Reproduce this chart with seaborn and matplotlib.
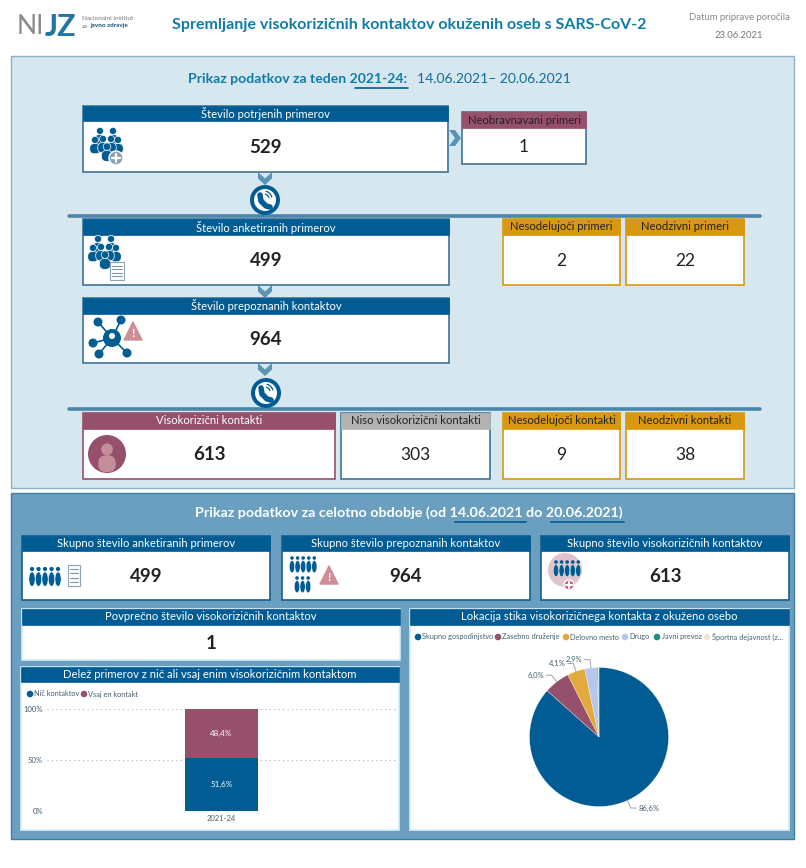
import pandas as pd
import seaborn as sns
import numpy as np
import matplotlib
matplotlib.use("Agg")
import matplotlib.pyplot as plt
from matplotlib.patches import Rectangle, Circle, Ellipse, Polygon, FancyBboxPatch

# ---- data ----
naslov = "Spremljanje visokorizičnih kontaktov okuženih oseb s SARS-CoV-2"
datum_label = "Datum priprave poročila"
datum = "23.06.2021"
teden = "2021-24"

potrjeni = 529
neobravnavani = 1
anketirani = 499
nesodelujoci_prim = 2
neodzivni_prim = 22
prepoznani = 964
visokorizicni = 613
niso_visokorizicni = 303
nesodelujoci_kont = 9
neodzivni_kont = 38
povprecje = 1

delez_kategorije = ["Nič kontaktov", "Vsaj en kontakt"]
delez_vrednosti = [51.6, 48.4]
delez_ticks = [0, 50, 100]

lokacije = ["Skupno gospodinjstvo", "Zasebno druženje", "Delovno mesto", "Drugo",
            "Javni prevoz", "Športna dejavnost (z..."]
lokacije_vrednosti = [86.6, 6.0, 4.1, 2.9, 0.3, 0.1]

MODRA = "#005c93"
VIJOLA = "#96506c"
ZLATA = "#d8980f"
SIVA = "#b2b2b2"
PIE_BARVE = [MODRA, VIJOLA, "#e2a93c", "#b5c8ea", "#1c8f84", "#f0e4cf"]
ROB = "#3f7396"
TEMNA = "#222222"
SIVO_MODRA = "#44606f"

sns.set_theme(style="white")
plt.rcParams["font.family"] = ["Lato", "DejaVu Sans"]

fig = plt.figure(figsize=(8.06, 8.68), dpi=100, facecolor="white")
ax = fig.add_axes([0, 0, 1, 1])
ax.set_xlim(0, 806)
ax.set_ylim(868, 0)
ax.axis("off")


def rect(x0, y0, x1, y1, fc, ec="none", lw=0, z=2):
    ax.add_patch(Rectangle((x0, y0), x1 - x0, y1 - y0, fc=fc, ec=ec, lw=lw, zorder=z))


def card(x0, y0, x1, y1, hh, title, value=None, head=MODRA, edge=ROB, bold=True, tcol="white", ts=8.1):
    rect(x0, y0, x1, y1, "white", edge, 1.2)
    rect(x0, y0, x1, y0 + hh, head, head, 0.5, z=3)
    ax.text((x0 + x1) / 2, y0 + hh / 2, title, color=tcol, fontsize=ts, ha="center", va="center", zorder=4)
    if value is not None:
        ax.text((x0 + x1) / 2, (y0 + hh + y1) / 2 + 1, str(value), color=TEMNA, fontsize=13.5 if bold else 12.5,
                fontweight="bold" if bold else "normal", ha="center", va="center", zorder=4)


def chev_down(x, y, w=7, h=12):
    ax.add_patch(Polygon([(x - w, y), (x, y + h * .5), (x + w, y), (x + w, y + h * .5), (x, y + h), (x - w, y + h * .5)],
                         fc="#5b93b5", ec="none", zorder=1.5))


def chev_right(x, y, w=12, h=8):
    ax.add_patch(Polygon([(x, y - h), (x + w * .5, y), (x, y + h), (x + w * .5, y + h), (x + w, y), (x + w * .5, y - h)],
                         fc="#5b93b5", ec="none", zorder=1.5))


def oseba(x, y, s, col=MODRA, z=5, ec="white"):
    ax.add_patch(FancyBboxPatch((x - s * .62, y - s * .05), s * 1.24, s * 1.2,
                                boxstyle="round,pad=0,rounding_size=%.2f" % (s * .55), fc=col, ec=ec, lw=.5, zorder=z))
    ax.add_patch(Circle((x, y - s * .48), s * .42, fc=col, ec=ec, lw=.5, zorder=z + .1))


def skupina(x, y, k=1.0):
    for dx, dy in [(-7, -11), (6, -11), (-12, -2), (11, -2)]:
        oseba(x + dx * k, y + dy * k, 8.5 * k)
    for dx, dy in [(-4, -3), (4, -3)]:
        oseba(x + dx * k, y + dy * k, 8.5 * k, z=6)
    oseba(x, y + 5 * k, 9 * k, z=7)


def plus(x, y, r=7, col="#8d9fb0"):
    ax.add_patch(Circle((x, y), r, fc=col, ec="white", lw=1, zorder=9))
    ax.plot([x - r * .6, x + r * .6], [y, y], color="white", lw=1.6, zorder=10)
    ax.plot([x, x], [y - r * .6, y + r * .6], color="white", lw=1.6, zorder=10)


def opomba(x, y, s=9, col="#cf8d98"):
    ax.add_patch(Polygon([(x, y - s), (x + s, y + s), (x - s, y + s)], fc=col, ec=col, lw=1, joinstyle="round", zorder=8))
    ax.text(x, y + s * .25, "!", color="white", fontsize=s * .95, fontweight="bold", ha="center", va="center", zorder=9)


def seznam(x0, y0, x1, y1):
    rect(x0, y0, x1, y1, "white", "#8fa3b3", .8, z=8)
    for yy in np.linspace(y0 + 4, y1 - 4, 4):
        ax.plot([x0 + 2, x1 - 2], [yy, yy], color="#7f95a6", lw=.8, zorder=9)


def telefon(x, y):
    ax.add_patch(Ellipse((x, y), 30, 30, fc=MODRA, ec="none", zorder=5))
    ax.add_patch(Ellipse((x, y), 22, 22, fc="white", ec="none", zorder=5.1))
    ax.plot([x - 5, x - 4, x + 1, x + 5], [y - 5, y + 1, y + 6, y + 7], color=MODRA, lw=4, solid_capstyle="round", zorder=6)
    for r in [5, 8]:
        t = np.radians(np.linspace(-75, -15, 12))
        ax.plot(x - 1 + r * np.cos(t), y - 1 + r * np.sin(t), color=MODRA, lw=.9, zorder=6)


def mreza(x, y):
    tocke = [(-14, -16), (9, -18), (-13, 16), (15, 15), (-19, 5)]
    for dx, dy in tocke:
        ax.plot([x, x + dx], [y, y + dy], color=MODRA, lw=1.2, zorder=5)
        ax.add_patch(Circle((x + dx, y + dy), 4.5, fc=MODRA, ec="none", zorder=6))
    ax.add_patch(Circle((x, y), 9, fc=MODRA, ec="none", zorder=6))
    ax.add_patch(Circle((x, y - 2), 3, fc="white", ec="none", zorder=7))


def mnozica(x, y, vrste=5, s=4.2):
    for i in range(vrste):
        ax.add_patch(Circle((x + i * s * 1.55, y), s * .5, fc=MODRA, ec="none", zorder=6))
        ax.add_patch(Ellipse((x + i * s * 1.55, y + s * 2.4), s * 1.45, s * 3.4, fc=MODRA, ec="white", lw=.3, zorder=6))


# ---- glava ----
ax.text(17, 27, "NI", color="#8a8a8a", fontsize=19, ha="left", va="center")
ax.text(45, 27, "JZ", color="#1f77a8", fontsize=22, fontweight="bold", ha="left", va="center")
ax.text(82, 18, "Nacionalni inštitut", color="#777777", fontsize=4.6, ha="left", va="center")
ax.text(82, 26, "za", color="#777777", fontsize=4.6, ha="left", va="center")
ax.text(90, 26, "javno zdravje", color="#1b4f72", fontsize=4.6, fontweight="bold", ha="left", va="center")
ax.text(409, 25, naslov, color="#0f7cab", fontsize=11.5, fontweight="bold", ha="center", va="center")
ax.text(739, 17, datum_label, color="#8a8a8a", fontsize=6.8, ha="center", va="center")
ax.text(739, 35, datum, color="#777777", fontsize=6.8, ha="center", va="center")

# ---- zgornji panel ----
rect(11, 56, 794, 488, "#d7e7f0", "#8fb0c4", 1, z=0)
ax.text(188, 79, "Prikaz podatkov za teden 2021-24:", color="#0f7cab", fontsize=10.1, fontweight="bold", ha="left", va="center")
ax.text(417, 79, "14.06.2021– 20.06.2021", color="#0f6d98", fontsize=10, ha="left", va="center")
ax.plot([355, 408], [88, 88], color=MODRA, lw=1.2)

for yy in (216, 409):
    ax.plot([69, 760], [yy, yy], color="#4a86aa", lw=2.6, zorder=1)

chev_down(265, 172, h=13)
chev_down(265, 285, h=13)
chev_down(265, 363, h=13)
chev_right(449, 138)

card(83, 106, 448, 172, 15, "Število potrjenih primerov", potrjeni)
card(462, 112, 586, 164, 16, "Neobravnavani primeri", neobravnavani, head=VIJOLA, bold=False, tcol=TEMNA)
card(83, 219, 449, 285, 16, "Število anketiranih primerov", anketirani)
card(503, 219, 620, 285, 16, "Nesodelujoči primeri", nesodelujoci_prim, head=ZLATA, edge=ZLATA, bold=False, tcol=TEMNA)
card(626, 219, 744, 285, 16, "Neodzivni primeri", neodzivni_prim, head=ZLATA, edge=ZLATA, bold=False, tcol=TEMNA)
card(83, 298, 449, 363, 16, "Število prepoznanih kontaktov", prepoznani)
card(83, 413, 335, 479, 16, "Visokorizični kontakti", visokorizicni, head=VIJOLA, edge=VIJOLA)
card(341, 413, 490, 479, 16, "Niso visokorizični kontakti", niso_visokorizicni, head=SIVA, bold=False, tcol=TEMNA)
card(503, 413, 620, 479, 16, "Nesodelujoči kontakti", nesodelujoci_kont, head=ZLATA, edge=ZLATA, bold=False, tcol=TEMNA)
card(626, 413, 744, 479, 16, "Neodzivni kontakti", neodzivni_kont, head=ZLATA, edge=ZLATA, bold=False, tcol=TEMNA)

skupina(107, 146)
plus(116, 158)
skupina(105, 254)
seznam(110, 262, 124, 280)
mreza(112, 338)
opomba(133, 331)
telefon(265, 200)
telefon(266, 393)
ax.add_patch(Ellipse((107, 454), 38, 38, fc=VIJOLA, ec="none", zorder=5))
oseba(107, 456, 14, col="#c48d9c", ec="none", z=6)

# ---- spodnji panel ----
rect(11, 493, 794, 839, "#6a9fbf", "#3f7f9f", 1, z=0)
ax.text(409, 513, "Prikaz podatkov za celotno obdobje (od 14.06.2021 do 20.06.2021)", color="white",
        fontsize=10.3, fontweight="bold", ha="center", va="center")
ax.plot([455, 526], [522, 522], color=MODRA, lw=1.2)
ax.plot([551, 624], [522, 522], color=MODRA, lw=1.2)

card(22, 536, 270, 600, 15, "Skupno število anketiranih primerov", anketirani, edge="#155f8a")
card(282, 536, 530, 600, 15, "Skupno število prepoznanih kontaktov", prepoznani, edge="#155f8a")
card(541, 536, 789, 600, 15, "Skupno število visokorizičnih kontaktov", visokorizicni, edge="#155f8a")
card(22, 609, 400, 660, 16, "Povprečno število visokorizičnih kontaktov", povprecje, edge="#d8eef8")
card(21, 667, 399, 830, 15, "Delež primerov z nič ali vsaj enim visokorizičnim kontaktom", edge="#d8eef8")
card(410, 609, 789, 830, 16, "Lokacija stika visokorizičnega kontakta z okuženo osebo", edge="#d8eef8")

mnozica(32, 569)
seznam(68, 565, 80, 586)
mnozica(292, 558, s=3.6)
mnozica(297, 578, vrste=3, s=3.6)
opomba(329, 575, s=9)
ax.add_patch(Ellipse((565, 570), 34, 34, fc="#e3c3cb", ec="none", zorder=5))
mnozica(556, 562, s=3.6)
plus(569, 585, r=5, col="#c8566f")

# legende
for x, k, c in zip([30, 84], delez_kategorije, [MODRA, VIJOLA]):
    ax.add_patch(Circle((x, 694), 3.3, fc=c, ec="none", zorder=5))
    ax.text(x + 4.5, 694, k, color=SIVO_MODRA, fontsize=5.3, ha="left", va="center", zorder=5)

leg_x = [418, 498, 566, 625, 657, 707]
for x, k, c in zip(leg_x, lokacije, PIE_BARVE):
    ax.add_patch(Circle((x, 637), 3.3, fc=c, ec="none", zorder=5))
    ax.text(x + 4.5, 637, k, color=SIVO_MODRA, fontsize=5.3, ha="left", va="center", zorder=5)

# ---- stolpec ----
W, H = 806, 868
bax = fig.add_axes([47 / W, 1 - 811 / H, 349 / W, 102 / H], facecolor="none", zorder=3)
df = pd.DataFrame({"teden": [teden] * 2, "kategorija": delez_kategorije, "delez": delez_vrednosti})
sns.barplot(data=df[df.kategorija == delez_kategorije[0]], x="teden", y="delez", color=MODRA, width=.21,
            saturation=1, linewidth=0, ax=bax, zorder=3)
sns.barplot(data=df[df.kategorija == delez_kategorije[1]], x="teden", y="delez", color=VIJOLA, width=.21,
            saturation=1, linewidth=0, bottom=delez_vrednosti[0], ax=bax, zorder=3)
bax.set_xlim(-.5, .5)
bax.set_ylim(0, 100)
bax.set_xlabel("")
bax.set_ylabel("")
bax.set_yticks(delez_ticks, [f"{t}%" for t in delez_ticks])
bax.tick_params(axis="both", length=0, labelsize=5.5, labelcolor=SIVO_MODRA, pad=3)
bax.grid(axis="y", linestyle=(0, (1, 3)), color="#aab4ba", lw=.8, zorder=0)
bax.set_axisbelow(True)
sns.despine(ax=bax, left=True, bottom=True)
dno = 0
for v in delez_vrednosti:
    bax.text(0, dno + v / 2, f"{v:.1f}%".replace(".", ","), color="white", fontsize=5.8, ha="center", va="center", zorder=5)
    dno += v

# ---- torta ----
R = 69.5
pax = fig.add_axes([(599 - R * 1.3) / W, 1 - (737 + R * 1.3) / H, R * 2.6 / W, R * 2.6 / H], facecolor="none", zorder=3)
wedges, _ = pax.pie(lokacije_vrednosti, colors=sns.color_palette(PIE_BARVE), startangle=90, counterclock=False,
                    radius=1, wedgeprops={"ec": "white", "lw": .2})
pax.set_xlim(-1.3, 1.3)
pax.set_ylim(-1.3, 1.3)
for w, v in list(zip(wedges, lokacije_vrednosti))[:4]:
    kot = np.radians((w.theta1 + w.theta2) / 2)
    cx, cy = np.cos(kot), np.sin(kot)
    ex, ey = 1.12 * cx, 1.12 * cy
    smer = 1 if cx > 0 else -1
    rep = ex + smer * .08
    pax.plot([cx, ex, rep], [cy, ey, ey], color="#9aa6ad", lw=.7, clip_on=False)
    pax.text(rep + smer * .03, ey, f"{v:.1f}%".replace(".", ","), color=SIVO_MODRA, fontsize=5.5,
             ha="left" if smer > 0 else "right", va="center", clip_on=False)

fig.savefig("out.png", dpi=100, facecolor="white")
